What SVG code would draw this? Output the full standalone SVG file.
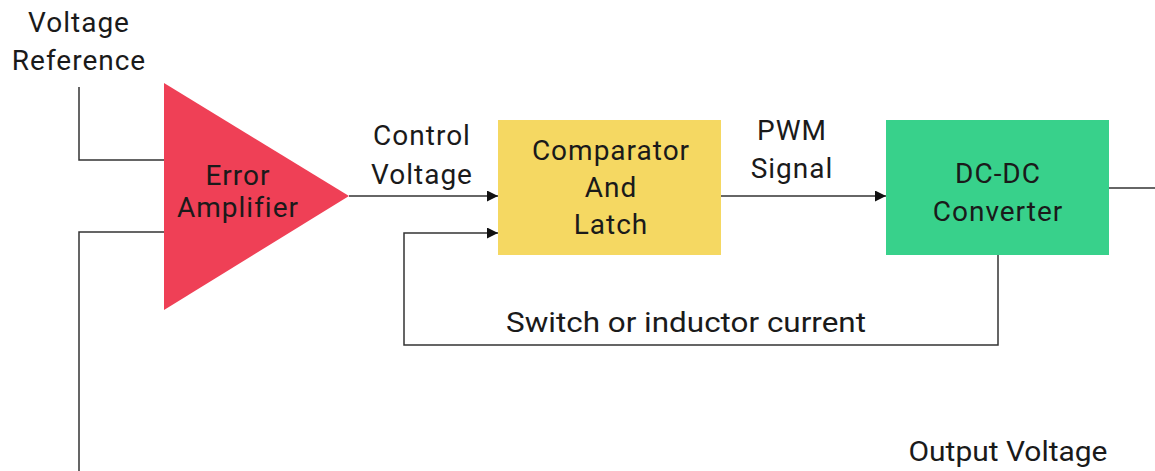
<svg xmlns="http://www.w3.org/2000/svg" width="1155" height="471" viewBox="0 0 1155 471">
<style>
text{font-family:Roboto,"Liberation Sans",sans-serif;font-size:28px;fill:#1a1a1a;text-anchor:middle;letter-spacing:1px}
.ln{fill:none;stroke:#333;stroke-width:1.5}
</style>
<defs>
<marker id="ah" viewBox="0 0 10 10" refX="10" refY="5" markerWidth="11" markerHeight="11" markerUnits="userSpaceOnUse" orient="auto">
<path d="M0,0 L10,5 L0,10 Z" fill="#111"/>
</marker>
</defs>
<rect width="1155" height="471" fill="#fff"/>
<g id="connectors">
<path class="ln" d="M79,87 V160 H164"/>
<path class="ln" d="M164,232 H79 V471"/>
<path class="ln" d="M349,196 H498" marker-end="url(#ah)"/>
<path class="ln" d="M998,255 V345 H404 V233 H498" marker-end="url(#ah)"/>
<path class="ln" d="M721,196 H886" marker-end="url(#ah)"/>
<path class="ln" d="M1109,188 H1155"/>
</g>
<g id="voltage-reference">
<text x="79" y="32">Voltage</text>
<text x="79" y="70">Reference</text>
</g>
<g id="error-amplifier">
<polygon points="164,83 349,196 164,310" fill="#EF4056"/>
<text x="238" y="185">Error</text>
<text x="238" y="217">Amplifier</text>
</g>
<g id="control-voltage">
<text x="422" y="145">Control</text>
<text x="422" y="184">Voltage</text>
</g>
<g id="comparator">
<rect x="498" y="120" width="223" height="135" fill="#F5D862"/>
<text x="611" y="160">Comparator</text>
<text x="611" y="197">And</text>
<text x="611" y="234">Latch</text>
</g>
<g id="pwm-signal">
<text x="792" y="140">PWM</text>
<text x="792" y="178">Signal</text>
</g>
<g id="dcdc">
<rect x="886" y="120" width="223" height="135" fill="#38D18B"/>
<text x="998" y="183">DC-DC</text>
<text x="998" y="221">Converter</text>
</g>
<g id="switch-label">
<text x="686" y="332" textLength="360" lengthAdjust="spacingAndGlyphs" style="letter-spacing:0">Switch or inductor current</text>
</g>
<g id="output-voltage">
<text x="1008" y="461" textLength="199" lengthAdjust="spacingAndGlyphs" style="letter-spacing:0">Output Voltage</text>
</g>
</svg>
